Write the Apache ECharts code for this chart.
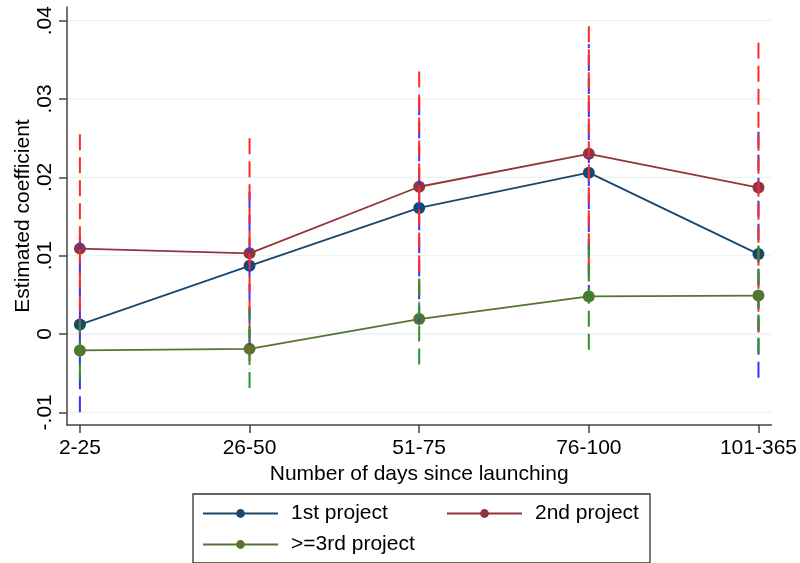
<!DOCTYPE html>
<html>
<head>
<meta charset="utf-8">
<script src="https://cdn.jsdelivr.net/npm/echarts@6/dist/echarts.min.js"></script>
<style>
  html, body { margin: 0; padding: 0; background: #fff; }
  #chart { width: 800px; height: 563px; }
</style>
</head>
<body>
<div id="chart"></div>
<script>
// Categories: days since launching
const categories = ['2-25', '26-50', '51-75', '76-100', '101-365'];

// Point estimates
const firstProject  = [0.0012, 0.0087, 0.0161, 0.0206, 0.0102];
const secondProject = [0.0109, 0.0103, 0.0188, 0.0230, 0.0187];
const thirdProject  = [-0.0021, -0.0019, 0.0019, 0.0048, 0.0049];

// Confidence interval bounds
const firstLo  = [-0.0100, -0.0015, 0.0015, 0.0042, -0.0056];
const firstHi  = [0.0124, 0.0189, 0.0306, 0.0370, 0.0260];
const secondLo = [-0.0037, -0.0044, 0.0041, 0.0067, 0.0002];
const secondHi = [0.0255, 0.0250, 0.0335, 0.0393, 0.0372];
const thirdLo  = [-0.0058, -0.0069, -0.0039, -0.0020, -0.0025];
const thirdHi  = [0.0016, 0.0031, 0.0077, 0.0115, 0.0123];

// Y axis ticks
const yTicks = [-0.01, 0, 0.01, 0.02, 0.03, 0.04];
const yTickLabels = ['-.01', '0', '.01', '.02', '.03', '.04'];

const FONT = "'Liberation Sans', Arial, sans-serif";
const FS = 21;
const catIdx = categories.map((c, i) => i);

function pairs(vals) { return vals.map((v, i) => [i, v]); }
function ranges(lo, hi) { return lo.map((v, i) => [i, v, hi[i]]); }

function errorBar(color, topDown) {
  return function (params, api) {
    const x = api.value(0);
    const pLo = api.coord([x, api.value(1)]);
    const pHi = api.coord([x, api.value(2)]);
    const a = topDown ? pHi : pLo;
    const b = topDown ? pLo : pHi;
    return {
      type: 'line',
      shape: { x1: a[0], y1: a[1], x2: b[0], y2: b[1] },
      style: { stroke: color, lineWidth: 2, lineDash: [16, 7] }
    };
  };
}

function gridLines(params, api) {
  const cs = params.coordSys;
  const y = api.coord([0, api.value(0)])[1];
  return {
    type: 'line',
    shape: { x1: cs.x, y1: y, x2: cs.x + cs.width, y2: y },
    style: { stroke: '#eaf2f3', lineWidth: 1.3 }
  };
}

const chart = echarts.init(document.getElementById('chart'), null, { renderer: 'canvas' });

const lineSeries = (name, vals, color) => ({
  name: name,
  type: 'line',
  data: pairs(vals),
  symbol: 'circle',
  symbolSize: 12,
  itemStyle: { color: color },
  lineStyle: { color: color, width: 1.8 },
  z: 3,
  animation: false
});

const option = {
  backgroundColor: '#ffffff',
  animation: false,
  textStyle: { fontFamily: FONT },
  grid: { left: 67, right: 26, top: 7, bottom: 138, containLabel: false },
  xAxis: {
    type: 'value',
    min: -0.076,
    max: 4.076,
    name: 'Number of days since launching',
    nameLocation: 'middle',
    nameGap: 37,
    nameTextStyle: { color: '#000', fontSize: FS, fontFamily: FONT },
    axisLine: { onZero: false, lineStyle: { color: '#444', width: 1.5 } },
    axisTick: { customValues: catIdx, length: 8, lineStyle: { color: '#444', width: 1.5 } },
    axisLabel: {
      customValues: catIdx,
      formatter: v => categories[Math.round(v)],
      color: '#000', fontSize: FS, fontFamily: FONT, margin: 13
    },
    splitLine: { show: false }
  },
  yAxis: {
    type: 'value',
    min: -0.01162,
    max: 0.04175,
    name: 'Estimated coefficient',
    nameLocation: 'middle',
    nameRotate: 90,
    nameGap: 33,
    nameMoveOverlap: false,
    nameTextStyle: { color: '#000', fontSize: FS, fontFamily: FONT },
    axisLine: { onZero: false, lineStyle: { color: '#444', width: 1.5 } },
    axisTick: { customValues: yTicks, length: 8, lineStyle: { color: '#444', width: 1.5 } },
    axisLabel: {
      customValues: yTicks,
      rotate: 90,
      formatter: v => yTickLabels[yTicks.findIndex(t => Math.abs(t - v) < 1e-9)],
      color: '#000', fontSize: FS, fontFamily: FONT, margin: 11
    },
    splitLine: { show: false }
  },
  legend: {
    left: 193,
    top: 494,
    width: 450,
    orient: 'horizontal',
    padding: [9, 9, 8, 9],
    itemGap: 10,
    itemWidth: 75,
    itemHeight: 11,
    selectedMode: false,
    borderColor: '#333',
    borderWidth: 1.3,
    borderRadius: 0,
    textStyle: { color: '#000', fontSize: FS, fontFamily: FONT, lineHeight: 20, padding: [0, 0, 0, 8] },
    data: [
      { name: '1st project', textStyle: { width: 145 } },
      { name: '2nd project', textStyle: { width: 106 } },
      { name: '>=3rd project', textStyle: { width: 145 } }
    ]
  },
  series: [
    {
      name: 'gridlines',
      type: 'custom',
      data: yTicks.map(v => [v]),
      encode: { y: 0 },
      renderItem: gridLines,
      silent: true,
      z: 0
    },
    lineSeries('1st project', firstProject, '#1a476f'),
    lineSeries('2nd project', secondProject, '#90353b'),
    lineSeries('>=3rd project', thirdProject, '#55752f'),
    {
      name: 'ci1', type: 'custom', data: ranges(firstLo, firstHi),
      encode: { x: 0, y: [1, 2] }, renderItem: errorBar('#3333ff', false), silent: true, z: 4
    },
    {
      name: 'ci2', type: 'custom', data: ranges(secondLo, secondHi),
      encode: { x: 0, y: [1, 2] }, renderItem: errorBar('#ff2a2a', true), silent: true, z: 5
    },
    {
      name: 'ci3', type: 'custom', data: ranges(thirdLo, thirdHi),
      encode: { x: 0, y: [1, 2] }, renderItem: errorBar('#2a952a', false), silent: true, z: 6
    }
  ]
};

chart.setOption(option);
</script>
</body>
</html>
